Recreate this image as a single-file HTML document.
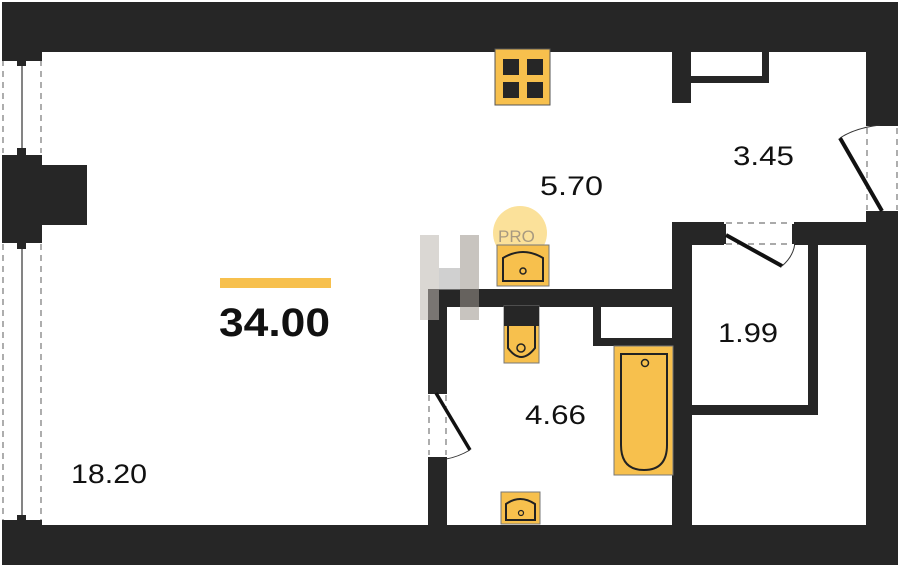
<!DOCTYPE html>
<html><head><meta charset="utf-8"><style>
html,body{margin:0;padding:0;background:#fff;}
svg{display:block}
text{font-family:"Liberation Sans","DejaVu Sans",sans-serif;fill:#111}
</style></head><body>
<svg width="900" height="567" viewBox="0 0 900 567" xmlns="http://www.w3.org/2000/svg">
<rect width="900" height="567" fill="#fff"/>
<g fill="#262626">
<rect x="2" y="2" width="896" height="50"/>
<rect x="2" y="2" width="40" height="56"/>
<rect x="2" y="155" width="40" height="87"/>
<rect x="40" y="165" width="47" height="60"/>
<rect x="2" y="523" width="40" height="42"/>
<rect x="2" y="525" width="896" height="40"/>
<rect x="866" y="2" width="32" height="122"/>
<rect x="866" y="212" width="32" height="353"/>
<rect x="672" y="50" width="19" height="53"/>
<rect x="690" y="76" width="78" height="7"/>
<rect x="762" y="50" width="7" height="33"/>
<rect x="672" y="222" width="52" height="23"/>
<rect x="794" y="222" width="74" height="23"/>
<rect x="672" y="222" width="20" height="305"/>
<rect x="808" y="240" width="10" height="175"/>
<rect x="690" y="405" width="128" height="10"/>
<rect x="428" y="289" width="246" height="18"/>
<rect x="428" y="289" width="19" height="102"/>
<rect x="428" y="458" width="19" height="70"/>
<rect x="593" y="305" width="8" height="41"/>
<rect x="593" y="338" width="80" height="8"/>
</g>
<g stroke="#777" stroke-dasharray="6,5" stroke-width="1.2" fill="none">
<line x1="3" y1="60" x2="3" y2="153"/><line x1="41" y1="60" x2="41" y2="153"/>
<line x1="3" y1="244" x2="3" y2="521"/><line x1="41" y1="244" x2="41" y2="521"/>
</g>
<g stroke="#333" stroke-width="1.2"><line x1="22" y1="60" x2="22" y2="153"/><line x1="22" y1="244" x2="22" y2="521"/></g>
<g fill="#262626">
<rect x="2" y="56" width="40" height="5"/><rect x="17" y="60" width="9" height="6"/><rect x="17" y="148" width="9" height="7"/>
<rect x="2" y="238" width="40" height="5"/><rect x="17" y="242" width="9" height="7"/><rect x="17" y="515" width="9" height="8"/>
<rect x="2" y="520" width="40" height="5"/>
</g>
<g stroke="#777" stroke-dasharray="6,5" stroke-width="1.2" fill="none">
<line x1="867" y1="128" x2="867" y2="210"/><line x1="897" y1="128" x2="897" y2="210"/>
<line x1="726" y1="223" x2="792" y2="223"/><line x1="726" y1="244" x2="792" y2="244"/>
<line x1="429" y1="395" x2="429" y2="455"/><line x1="446" y1="395" x2="446" y2="455"/>
</g>
<g fill="#262626">
<rect x="866" y="121" width="32" height="5"/><rect x="866" y="211" width="32" height="5"/>
</g>
<line x1="840" y1="138" x2="882" y2="211" stroke="#111" stroke-width="4"/>
<path d="M840 138 Q855 128 880 125" stroke="#333" fill="none"/>
<rect x="720" y="224" width="6" height="20" fill="#262626"/><rect x="792" y="224" width="6" height="20" fill="#262626"/>
<line x1="726" y1="235" x2="782" y2="266" stroke="#111" stroke-width="4"/>
<path d="M782 266 Q795 255 795 240" stroke="#333" fill="none"/>
<rect x="428" y="389" width="19" height="5" fill="#262626"/><rect x="428" y="457" width="19" height="5" fill="#262626"/>
<line x1="436" y1="393" x2="470" y2="450" stroke="#111" stroke-width="3.5"/>
<path d="M470 450 Q458 457 446 459" stroke="#333" fill="none"/>
<rect x="495" y="49" width="55" height="56" fill="#f7c04d" stroke="#555"/>
<g fill="#262626"><rect x="503" y="59" width="16" height="16"/><rect x="527" y="59" width="16" height="16"/><rect x="503" y="82" width="16" height="16"/><rect x="527" y="82" width="16" height="16"/></g>
<circle cx="520" cy="233" r="27" fill="#fbe19a"/>
<text x="498" y="242" font-size="17" style="fill:#a89a80">PRO</text>
<g opacity="0.55"><rect x="420" y="235" width="19" height="85" fill="#bdb7b0"/><rect x="460" y="235" width="19" height="85" fill="#9c948c"/><rect x="439" y="268" width="21" height="22" fill="#aaa"/></g>
<rect x="497" y="245" width="52" height="41" fill="#f7c04d" stroke="#777"/>
<path d="M503 281 V258 Q523 246 543 258 V281 Z" fill="none" stroke="#222" stroke-width="2"/>
<circle cx="523" cy="271" r="3" fill="none" stroke="#222" stroke-width="1.5"/>
<rect x="501" y="492" width="39" height="32" fill="#f7c04d" stroke="#777"/>
<path d="M506 520 V504 Q520 494 535 504 V520 Z" fill="none" stroke="#222" stroke-width="2"/>
<circle cx="521" cy="513" r="2.5" fill="none" stroke="#222" stroke-width="1.2"/>
<rect x="504" y="306" width="35" height="57" fill="#f7c04d" stroke="#777"/>
<rect x="504" y="306" width="35" height="20" fill="#262626"/>
<path d="M508 326 V348 Q521 366 535 348 V326" fill="none" stroke="#222" stroke-width="2"/>
<circle cx="521" cy="348" r="4" fill="none" stroke="#222" stroke-width="1.5"/>
<rect x="614" y="346" width="59" height="129" fill="#f7c04d" stroke="#777"/>
<path d="M621 354 H667 V445 Q667 470 644 470 Q621 470 621 445 Z" fill="none" stroke="#222" stroke-width="2"/>
<circle cx="645" cy="363" r="3.5" fill="none" stroke="#222" stroke-width="1.5"/>
<rect x="220" y="278" width="111" height="10" fill="#f7c04d"/>
<text x="219" y="336" font-size="40" font-weight="bold" textLength="111" lengthAdjust="spacingAndGlyphs">34.00</text>
<g font-size="27">
<text x="540" y="195" textLength="63" lengthAdjust="spacingAndGlyphs">5.70</text>
<text x="733" y="165" textLength="61" lengthAdjust="spacingAndGlyphs">3.45</text>
<text x="718" y="342" textLength="60" lengthAdjust="spacingAndGlyphs">1.99</text>
<text x="525" y="424" textLength="61" lengthAdjust="spacingAndGlyphs">4.66</text>
<text x="71" y="483" textLength="76" lengthAdjust="spacingAndGlyphs">18.20</text>
</g>
</svg>
</body></html>
